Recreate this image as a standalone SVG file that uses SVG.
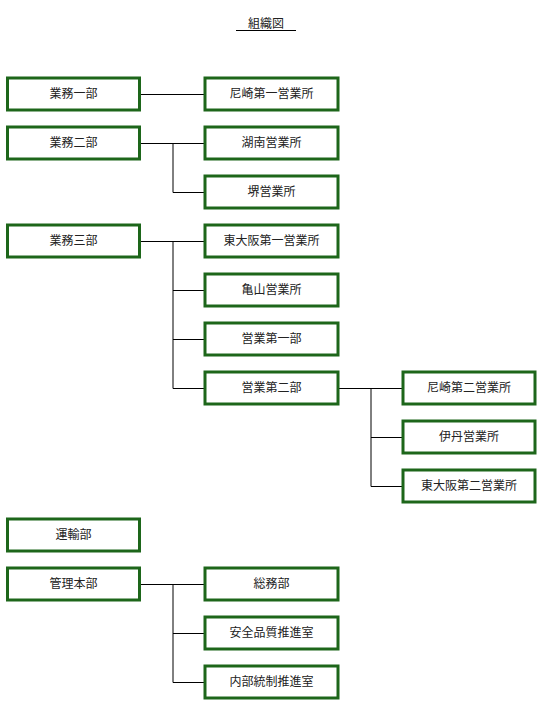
<svg xmlns="http://www.w3.org/2000/svg" width="544" height="711" viewBox="0 0 544 711">
<style>
.box{fill:#fff;stroke:#1d661a;stroke-width:3}
.t{font-family:"Liberation Sans","Noto Sans CJK JP",sans-serif;font-size:12px;fill:#222;text-anchor:middle;dominant-baseline:central}
.c{fill:none;stroke:#000;stroke-width:1}
</style>
<rect width="544" height="711" fill="#fff"/>
<g id="title">
<text class="t" x="266" y="24">組織図</text>
<line x1="236" y1="30.5" x2="296" y2="30.5" stroke="#000" stroke-width="1"/>
</g>
<g id="connectors">
<path class="c" d="M140 94.5H204"/>
<path class="c" d="M140 143.5H204M173 143.5V192.5H204"/>
<path class="c" d="M140 241.5H204M173 241.5V388.5H204M173 290.5H204M173 339.5H204"/>
<path class="c" d="M339 388.5H402M371 388.5V486.5H402M371 437.5H402"/>
<path class="c" d="M140 584.5H204M173 584.5V682.5H204M173 633.5H204"/>
</g>
<g id="n1"><rect class="box" x="7.5" y="78" width="132" height="32"/><text class="t" x="73.5" y="94">業務一部</text></g>
<g id="n2"><rect class="box" x="205" y="78" width="133" height="32"/><text class="t" x="271.5" y="94">尼崎第一営業所</text></g>
<g id="n3"><rect class="box" x="7.5" y="127" width="132" height="32"/><text class="t" x="73.5" y="143">業務二部</text></g>
<g id="n4"><rect class="box" x="205" y="127" width="133" height="32"/><text class="t" x="271.5" y="143">湖南営業所</text></g>
<g id="n5"><rect class="box" x="205" y="176" width="133" height="32"/><text class="t" x="271.5" y="192">堺営業所</text></g>
<g id="n6"><rect class="box" x="7.5" y="225" width="132" height="32"/><text class="t" x="73.5" y="241">業務三部</text></g>
<g id="n7"><rect class="box" x="205" y="225" width="133" height="32"/><text class="t" x="271.5" y="241">東大阪第一営業所</text></g>
<g id="n8"><rect class="box" x="205" y="274" width="133" height="32"/><text class="t" x="271.5" y="290">亀山営業所</text></g>
<g id="n9"><rect class="box" x="205" y="323" width="133" height="32"/><text class="t" x="271.5" y="339">営業第一部</text></g>
<g id="n10"><rect class="box" x="205" y="372" width="133" height="32"/><text class="t" x="271.5" y="388">営業第二部</text></g>
<g id="n11"><rect class="box" x="403" y="372" width="132" height="32"/><text class="t" x="469" y="388">尼崎第二営業所</text></g>
<g id="n12"><rect class="box" x="403" y="421" width="132" height="32"/><text class="t" x="469" y="437">伊丹営業所</text></g>
<g id="n13"><rect class="box" x="403" y="470" width="132" height="32"/><text class="t" x="469" y="486">東大阪第二営業所</text></g>
<g id="n14"><rect class="box" x="7.5" y="519" width="132" height="32"/><text class="t" x="73.5" y="535">運輸部</text></g>
<g id="n15"><rect class="box" x="7.5" y="568" width="132" height="32"/><text class="t" x="73.5" y="584">管理本部</text></g>
<g id="n16"><rect class="box" x="205" y="568" width="133" height="32"/><text class="t" x="271.5" y="584">総務部</text></g>
<g id="n17"><rect class="box" x="205" y="617" width="133" height="32"/><text class="t" x="271.5" y="633">安全品質推進室</text></g>
<g id="n18"><rect class="box" x="205" y="666" width="133" height="32"/><text class="t" x="271.5" y="682">内部統制推進室</text></g>
</svg>
